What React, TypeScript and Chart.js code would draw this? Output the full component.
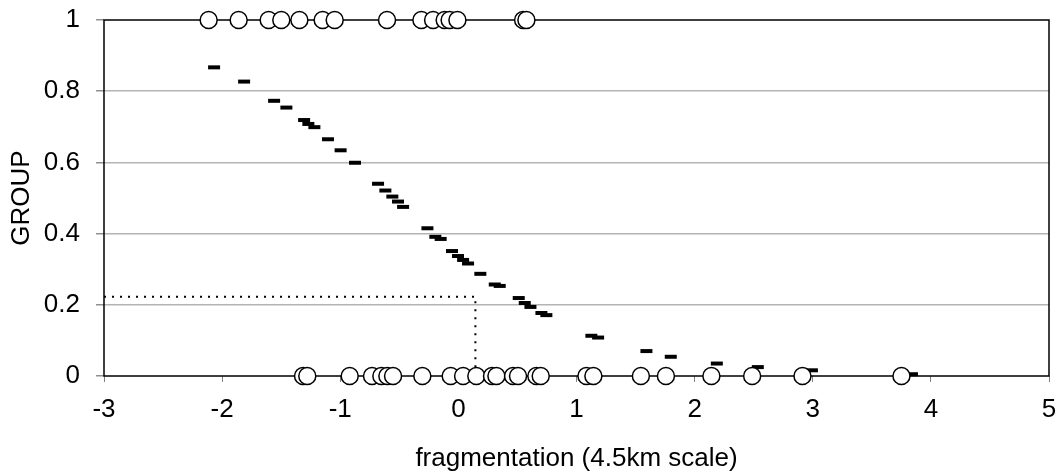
import React, { useEffect, useRef } from "react";
import { Chart, registerables } from "chart.js";

Chart.register(...registerables);

// Observed group membership (GROUP = 1)
const group1X = [-2.114, -1.86, -1.606, -1.499, -1.346, -1.149, -1.047, -0.604, -0.313, -0.214, -0.116, -0.074, -0.008, 0.548, 0.576];
// Observed group membership (GROUP = 0)
const group0X = [-1.315, -1.279, -0.92, -0.731, -0.652, -0.601, -0.553, -0.305, -0.065, 0.04, 0.152, 0.285, 0.322, 0.463, 0.505, 0.66, 0.697, 1.084, 1.143, 1.545, 1.757, 2.142, 2.487, 2.913, 3.751];
// Predicted probabilities
const predX = [-2.068, -1.814, -1.56, -1.456, -1.306, -1.27, -1.219, -1.104, -0.997, -0.875, -0.68, -0.618, -0.559, -0.511, -0.468, -0.262, -0.195, -0.15, -0.054, -0.003, 0.04, 0.082, 0.186, 0.308, 0.35, 0.511, 0.562, 0.61, 0.703, 0.745, 1.126, 1.183, 1.592, 1.798, 2.188, 2.535, 2.993, 3.84];
const predY = [0.867, 0.827, 0.773, 0.754, 0.719, 0.708, 0.699, 0.665, 0.634, 0.599, 0.54, 0.521, 0.504, 0.49, 0.475, 0.415, 0.391, 0.385, 0.351, 0.337, 0.326, 0.316, 0.287, 0.257, 0.253, 0.219, 0.205, 0.194, 0.177, 0.171, 0.113, 0.108, 0.07, 0.054, 0.035, 0.025, 0.016, 0.005];
// Cut-off guide (dotted)
const guideX = [-3, 0.144, 0.144];
const guideY = [0.2227, 0.2227, 0];

const xTitle = "fragmentation (4.5km scale)";
const yTitle = "GROUP";

const FONT = "'Liberation Sans', Arial, sans-serif";
const FS = 26;

export default function App() {
  const ref = useRef<HTMLCanvasElement>(null);
  useEffect(() => {
    const borderPlugin = {
      id: "plotBorder",
      beforeDatasetsDraw(chart: any) {
        const { ctx, chartArea: a } = chart;
        ctx.save();
        ctx.strokeStyle = "#000";
        ctx.lineWidth = 1.5;
        ctx.strokeRect(a.left, a.top, a.right - a.left, a.bottom - a.top);
        ctx.restore();
      },
    };
    const chart = new Chart(ref.current!, {
      type: "scatter",
      data: {
        datasets: [
          {
            label: "GROUP 1",
            data: group1X.map((x) => ({ x, y: 1 })),
            pointRadius: 8.5,
            pointBackgroundColor: "#fff",
            pointBorderColor: "#000",
            pointBorderWidth: 1.5,
            clip: false,
          } as any,
          {
            label: "GROUP 0",
            data: group0X.map((x) => ({ x, y: 0 })),
            pointRadius: 8.5,
            pointBackgroundColor: "#fff",
            pointBorderColor: "#000",
            pointBorderWidth: 1.5,
            clip: false,
          },
          {
            label: "Predicted",
            data: predX.map((x, i) => ({ x, y: predY[i] })),
            pointStyle: "line",
            pointRadius: 6,
            pointBorderWidth: 4,
            pointBorderColor: "#000",
            pointBackgroundColor: "#000",
            clip: false,
          },
          {
            label: "Cut-off",
            type: "line",
            data: guideX.map((x, i) => ({ x, y: guideY[i] })),
            borderColor: "#000",
            borderWidth: 2,
            borderDash: [2, 6],
            pointRadius: 0,
            fill: false,
            tension: 0,
            clip: false,
          },
        ],
      },
      options: {
        animation: false,
        responsive: false,
        maintainAspectRatio: false,
        layout: { padding: { top: 20, right: 12, left: 0, bottom: 0 } },
        plugins: { legend: { display: false }, tooltip: { enabled: false } },
        scales: {
          x: {
            type: "linear",
            min: -3,
            max: 5,
            border: { display: false },
            grid: { drawOnChartArea: false, drawTicks: true, tickLength: 6, tickColor: "#808080" },
            ticks: { stepSize: 1, color: "#000", font: { family: FONT, size: FS }, padding: 12, maxRotation: 0 },
            title: { display: true, text: xTitle, color: "#000", font: { family: FONT, size: FS }, padding: { top: 0, bottom: 0 } },
            afterFit(scale: any) { scale.height = 98; scale.paddingLeft = 0; scale.paddingRight = 0; },
          },
          y: {
            type: "linear",
            min: 0,
            max: 1,
            border: { display: false },
            grid: {
              color: (c: any) => (c.tick && (c.tick.value === 0 || c.tick.value === 1) ? "rgba(0,0,0,0)" : "#b4b4b4"),
              lineWidth: 1.5,
              tickLength: 8,
              tickColor: "#909090",
            },
            ticks: {
              stepSize: 0.2,
              color: "#000",
              font: { family: FONT, size: FS },
              padding: 16,
              callback: (v: any) => String(Math.round(Number(v) * 10) / 10),
            },
            title: { display: true, text: yTitle, color: "#000", font: { family: FONT, size: FS }, padding: { top: 6, bottom: 0 } },
            afterFit(scale: any) { scale.width = 104; scale.paddingTop = 0; scale.paddingBottom = 0; },
          },
        },
      },
      plugins: [borderPlugin],
    } as any);
    return () => chart.destroy();
  }, []);
  return (
    <div style={{ position: "absolute", left: 0, top: 0, width: 1061, height: 474, background: "#fff" }}>
      <canvas ref={ref} width={1061} height={474} style={{ display: "block", width: 1061, height: 474 }} />
    </div>
  );
}
